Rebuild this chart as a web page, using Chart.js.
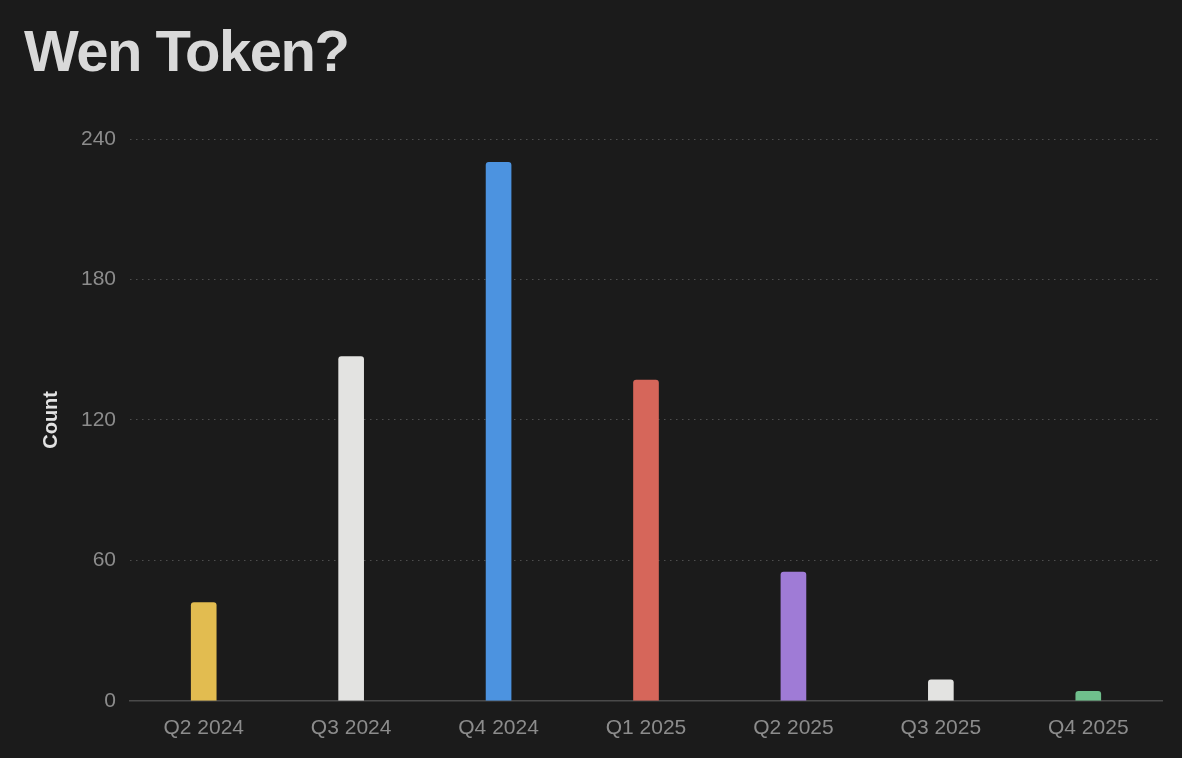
<!DOCTYPE html>
<html>
<head>
<meta charset="utf-8">
<script src="https://cdn.jsdelivr.net/npm/chart.js@4"></script>
<style>
  html, body { margin: 0; padding: 0; background: #1b1b1b; }
  #wrap { position: relative; width: 1182px; height: 758px; overflow: hidden; }
  #title {
    position: absolute; left: 24px; top: 22px; margin: 0;
    font: bold 58px "Liberation Sans", Arial, sans-serif; line-height: 1;
    letter-spacing: -1.5px; color: #d9d9d9;
  }
  #chart { position: absolute; left: 0; top: 0; }
</style>
</head>
<body>
<div id="wrap">
  <h1 id="title">Wen Token?</h1>
  <canvas id="chart" width="1182" height="758"></canvas>
</div>
<script>
const quarters = ['Q2 2024', 'Q3 2024', 'Q4 2024', 'Q1 2025', 'Q2 2025', 'Q3 2025', 'Q4 2025'];
const counts = [42, 147, 230, 137, 55, 9, 4];
const barColors = ['#e2bc50', '#e3e3e1', '#4c93e0', '#d6665a', '#9f7bd6', '#e3e3e1', '#6fbf8c'];
const yTicks = [0, 60, 120, 180, 240];

const tickFont = { family: '"Liberation Sans", Arial, sans-serif', size: 21 };

new Chart(document.getElementById('chart'), {
  type: 'bar',
  data: {
    labels: quarters,
    datasets: [{
      label: 'Count',
      data: counts,
      backgroundColor: barColors,
      borderRadius: 3,
      barThickness: 25
    }]
  },
  options: {
    responsive: false,
    animation: false,
    layout: { padding: { top: 139, left: 30, right: 20, bottom: 2 } },
    plugins: { legend: { display: false }, tooltip: { enabled: false } },
    scales: {
      x: {
        grid: { display: false, drawTicks: false },
        border: { display: true, color: '#4a4a4a', width: 1.5 },
        ticks: { color: '#8c8c8c', font: tickFont, padding: 15 }
      },
      y: {
        min: 0, max: 240,
        afterBuildTicks: axis => { axis.ticks = yTicks.map(v => ({ value: v })); },
        afterFit: axis => { axis.width = 100; },
        grid: { color: '#4e4e4e', lineWidth: 1, drawTicks: false },
        border: { display: false, dash: [1.5, 4.5] },
        ticks: { color: '#8c8c8c', font: tickFont, padding: 14 },
        title: {
          display: true, text: 'Count', color: '#e2e2e2',
          font: { family: '"Liberation Sans", Arial, sans-serif', size: 20, weight: 'bold' },
          padding: { top: 9, bottom: 9 }
        }
      }
    }
  }
});
</script>
</body>
</html>
